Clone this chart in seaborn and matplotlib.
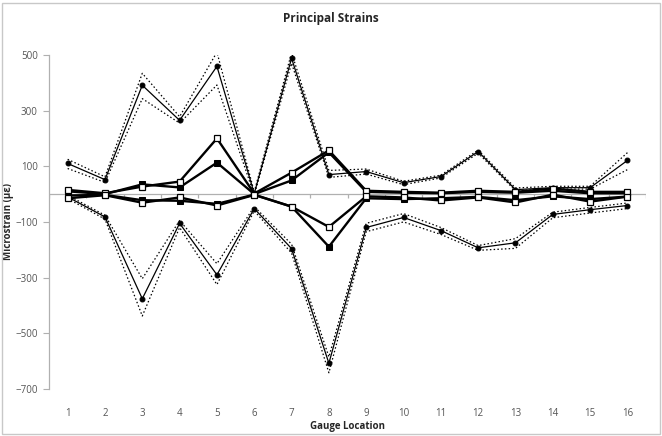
import numpy as np
import seaborn as sns
import matplotlib.pyplot as plt

sns.set_style("white")
plt.rcParams['font.family'] = ['Open Sans', 'DejaVu Sans']

# gauge locations
gauges = list(range(1, 17))

# max principal strain and its dotted bounds
max_p = [110, 52, 391, 265, 459, 2, 488, 70, 81, 41, 63, 153, 16, 23, 23, 121]
max_hi = [125, 62, 434, 278, 510, 8, 508, 85, 90, 46, 68, 158, 22, 28, 28, 149]
max_lo = [92, 42, 343, 255, 392, -4, 470, 60, 72, 34, 58, 147, 12, 18, 18, 88]

# min principal strain and its dotted bounds
min_p = [-10, -82, -376, -105, -290, -52, -196, -608, -120, -84, -131, -193, -175, -73, -56, -41]
min_hi = [-4, -76, -304, -95, -250, -45, -180, -585, -105, -70, -120, -185, -160, -65, -48, -32]
min_lo = [-16, -90, -438, -120, -325, -60, -212, -642, -135, -100, -145, -202, -195, -85, -68, -52]

# thick series with square markers
pos_filled = [10, 0, 35, 24, 113, 0, 49, 150, 8, 5, 3, 8, 5, 12, 3, 3]
pos_open = [15, 3, 27, 45, 200, 2, 77, 157, 12, 8, 5, 12, 8, 20, 8, 8]
neg_filled = [-5, -3, -22, -24, -35, -2, -45, -189, -15, -18, -15, -10, -22, -8, -18, -9]
neg_open = [-15, -4, -31, -12, -41, -3, -45, -118, -8, -12, -23, -12, -30, -2, -27, -9]

fig = plt.figure(figsize=(6.62, 4.36), dpi=100)
ax = fig.add_axes([0.074, 0.108, 0.902, 0.766])

for s in (max_hi, max_lo, min_hi, min_lo):
    sns.lineplot(x=gauges, y=s, ax=ax, color='black', lw=0.9, ls=(0, (1.2, 1.8)))

for s in (max_p, min_p):
    sns.lineplot(x=gauges, y=s, ax=ax, color='black', lw=0.9, marker='o', ms=3.5,
                 markeredgecolor='black', markerfacecolor='black')

for s in (pos_filled, neg_filled):
    sns.lineplot(x=gauges, y=s, ax=ax, color='black', lw=1.7, marker='s', ms=4,
                 markeredgecolor='black', markerfacecolor='black')

for s in (pos_open, neg_open):
    sns.lineplot(x=gauges, y=s, ax=ax, color='black', lw=1.7, marker='s', ms=5,
                 markeredgecolor='black', markerfacecolor='white', markeredgewidth=0.9)

ax.set_xlim(0.5, 16.5)
ax.set_ylim(-700, 500)
ax.set_yticks([-700, -500, -300, -100, 100, 300, 500])
ax.set_xticks(gauges)

# zero line acts as the category axis
ax.axhline(0, color='#b0b0b0', lw=0.9, zorder=0)
ax.vlines(np.arange(0.5, 17, 1), -14, 0, color='#b0b0b0', lw=0.9, zorder=0)

for sp in ('top', 'right', 'bottom'):
    ax.spines[sp].set_visible(False)
ax.spines['left'].set_color('#b0b0b0')
ax.spines['left'].set_linewidth(0.9)
ax.tick_params(axis='y', left=True, length=4, color='#b0b0b0', labelsize=7, labelcolor='#555555', pad=4)
ax.tick_params(axis='x', bottom=False, labelsize=7, labelcolor='#555555', pad=10)

ax.set_xlabel('Gauge Location', fontsize=7, fontweight='bold', labelpad=2)
ax.set_ylabel('Microstrain (με)', fontsize=7, fontweight='bold')
ax.yaxis.set_label_coords(-0.058, 0.5)
fig.text(0.5, 0.958, 'Principal Strains', ha='center', va='center', fontsize=8.5, fontweight='bold')

fig.patches.append(plt.Rectangle((0.003, 0.004), 0.994, 0.99, transform=fig.transFigure,
                                 fill=False, edgecolor='#c8c8c8', lw=1))

fig.savefig('out.png', dpi=100)
